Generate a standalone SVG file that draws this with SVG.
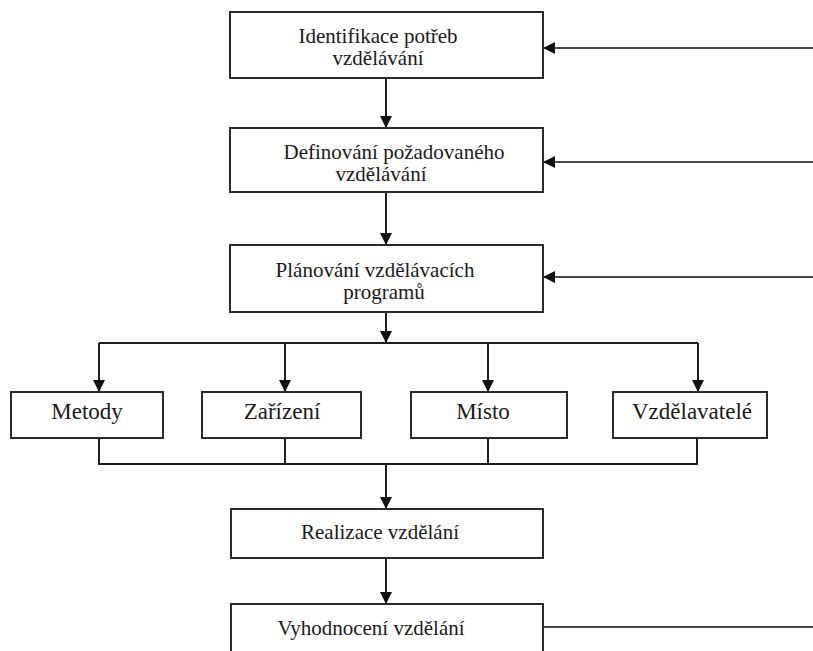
<svg xmlns="http://www.w3.org/2000/svg" width="813" height="651" viewBox="0 0 813 651">
<style>
.box{fill:#fff;stroke:#2a2a2a;stroke-width:2}
.ln{fill:none;stroke:#1e1e1e;stroke-width:2}
.g{stroke:#4a4a4a}
</style>
<defs>
<marker id="ah" markerUnits="userSpaceOnUse" markerWidth="12" markerHeight="12" viewBox="0 0 12 12" refX="12" refY="6" orient="auto">
<path d="M0,0 L12,6 L0,12 Z" fill="#111"/>
</marker>
</defs>
<g id="connectors">
<line class="ln" x1="386" y1="78" x2="386" y2="128" marker-end="url(#ah)"/>
<line class="ln" x1="386" y1="192" x2="386" y2="245" marker-end="url(#ah)"/>
<line class="ln" x1="386" y1="312" x2="386" y2="343" marker-end="url(#ah)"/>
<line class="ln" x1="99" y1="343" x2="698" y2="343"/>
<line class="ln" x1="99" y1="343" x2="99" y2="392" marker-end="url(#ah)"/>
<line class="ln" x1="285" y1="343" x2="285" y2="392" marker-end="url(#ah)"/>
<line class="ln" x1="488" y1="343" x2="488" y2="392" marker-end="url(#ah)"/>
<line class="ln" x1="698" y1="343" x2="698" y2="392" marker-end="url(#ah)"/>
<polyline class="ln" points="99,438 99,464 697,464 697,438"/>
<line class="ln" x1="285" y1="438" x2="285" y2="464"/>
<line class="ln" x1="488" y1="438" x2="488" y2="464"/>
<line class="ln" x1="386" y1="464" x2="386" y2="509" marker-end="url(#ah)"/>
<line class="ln" x1="386" y1="558" x2="386" y2="604" marker-end="url(#ah)"/>
<line class="ln g" x1="813" y1="48" x2="543" y2="48" marker-end="url(#ah)"/>
<line class="ln g" x1="813" y1="162" x2="543" y2="162" marker-end="url(#ah)"/>
<line class="ln g" x1="813" y1="277" x2="543" y2="277" marker-end="url(#ah)"/>
<line class="ln g" x1="543" y1="627" x2="813" y2="627"/>
</g>
<g id="n1">
<rect class="box" x="230" y="12" width="313" height="66"/>
<text x="378" y="43" font-family="Liberation Serif" font-size="21" text-anchor="middle" fill="#1a1a1a">Identifikace potřeb</text>
<text x="378" y="65" font-family="Liberation Serif" font-size="21" text-anchor="middle" fill="#1a1a1a">vzdělávání</text>
</g>
<g id="n2">
<rect class="box" x="230" y="128" width="313" height="64"/>
<text x="394" y="159" font-family="Liberation Serif" font-size="21" text-anchor="middle" fill="#1a1a1a">Definování požadovaného</text>
<text x="381" y="181" font-family="Liberation Serif" font-size="21" text-anchor="middle" fill="#1a1a1a">vzdělávání</text>
</g>
<g id="n3">
<rect class="box" x="230" y="245" width="313" height="67"/>
<text x="375" y="277" font-family="Liberation Serif" font-size="21" text-anchor="middle" fill="#1a1a1a">Plánování vzdělávacích</text>
<text x="384" y="299" font-family="Liberation Serif" font-size="21" text-anchor="middle" fill="#1a1a1a">programů</text>
</g>
<g id="n4">
<rect class="box" x="11" y="392" width="152" height="46"/>
<text x="87" y="419" font-family="Liberation Serif" font-size="23" text-anchor="middle" fill="#1a1a1a">Metody</text>
</g>
<g id="n5">
<rect class="box" x="202" y="392" width="159" height="46"/>
<text x="282" y="419" font-family="Liberation Serif" font-size="23" text-anchor="middle" fill="#1a1a1a">Zařízení</text>
</g>
<g id="n6">
<rect class="box" x="411" y="392" width="156" height="46"/>
<text x="483" y="419" font-family="Liberation Serif" font-size="23" text-anchor="middle" fill="#1a1a1a">Místo</text>
</g>
<g id="n7">
<rect class="box" x="613" y="392" width="154" height="46"/>
<text x="692" y="419" font-family="Liberation Serif" font-size="23" text-anchor="middle" fill="#1a1a1a">Vzdělavatelé</text>
</g>
<g id="n8">
<rect class="box" x="231" y="509" width="312" height="49"/>
<text x="380" y="539" font-family="Liberation Serif" font-size="21" text-anchor="middle" fill="#1a1a1a">Realizace vzdělání</text>
</g>
<g id="n9">
<rect class="box" x="231" y="604" width="312" height="60"/>
<text x="371" y="635" font-family="Liberation Serif" font-size="21" text-anchor="middle" fill="#1a1a1a">Vyhodnocení vzdělání</text>
</g>
</svg>
